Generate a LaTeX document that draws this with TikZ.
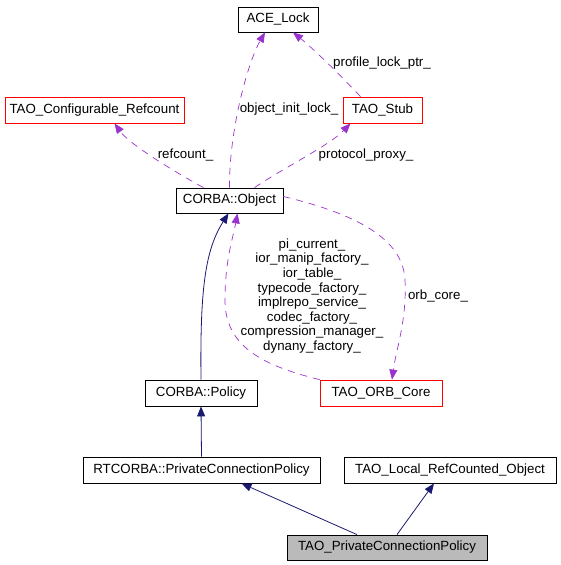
\documentclass[tikz,border=0pt]{standalone}
\usepackage{fontspec}
\setmainfont{Liberation Sans}
\usetikzlibrary{arrows.meta}
\definecolor{dep}{HTML}{9A32CD}
\definecolor{inh}{HTML}{191970}
\begin{document}
\begin{tikzpicture}[x=1pt,y=-1pt,
  font=\fontsize{13.3}{14.6}\selectfont,
  box/.style={draw=black,line width=0.8pt,inner sep=0pt,text height=9.5pt,text depth=3pt},
  redbox/.style={box,draw=red},
  graybox/.style={box,fill=black!27},
  depline/.style={draw=dep,line width=0.7pt,dash pattern=on 7pt off 6pt,-{Triangle[length=10pt,width=8pt,fill=dep]}},
  inhline/.style={draw=inh,line width=0.8pt,-{Triangle[length=10pt,width=8pt,fill=inh]}},
  lbl/.style={inner sep=0pt,align=center}]
\useasboundingbox (0,0) rectangle (560,565);

\node[box,minimum width=80pt,minimum height=25pt] (ace) at (278,19.5) {ACE\_Lock};
\node[redbox,minimum width=179pt,minimum height=26pt] (ref) at (94.5,110) {TAO\_Configurable\_Refcount};
\node[redbox,minimum width=79pt,minimum height=26pt] (stub) at (382.5,110) {TAO\_Stub};
\node[box,minimum width=107pt,minimum height=25pt] (obj) at (229.5,200.5) {CORBA::Object};
\node[box,minimum width=112pt,minimum height=26pt] (pol) at (201,393) {CORBA::Policy};
\node[redbox,minimum width=122pt,minimum height=26pt] (orb) at (381,393) {TAO\_ORB\_Core};
\node[box,minimum width=237pt,minimum height=26pt] (rt) at (201.5,470) {RTCORBA::PrivateConnectionPolicy};
\node[box,minimum width=212pt,minimum height=26pt] (loc) at (450,470) {TAO\_Local\_RefCounted\_Object};
\node[graybox,minimum width=200pt,minimum height=25pt] (pcp) at (387,547.5) {TAO\_PrivateConnectionPolicy};

% dependency edges
\draw[depline] (obj.north) .. controls (229,130) and (248,62) .. ([xshift=-13pt]ace.south);
\draw[depline] ([xshift=-22pt]stub.north) .. controls (345,80) and (315,50) .. ([xshift=15pt]ace.south);
\draw[depline] ([xshift=-26pt]obj.north) .. controls (180,175) and (130,145) .. ([xshift=20pt]ref.south);
\draw[depline] ([xshift=25pt]obj.north) .. controls (280,170) and (330,145) .. ([xshift=-32pt]stub.south);
\draw[depline] ([yshift=4pt]obj.east) .. controls (360,215) and (403,240) .. (405,280)
   .. controls (407,320) and (396,350) .. ([xshift=11pt]orb.north);
\draw[depline] (orb.north west) .. controls (260,365) and (225,345) .. (225,300)
   .. controls (225,260) and (233,238) .. ([xshift=8pt]obj.south);

% inheritance edges
\draw[inhline] (pol.north) .. controls (200,290) and (205,250) .. ([xshift=-1pt]obj.south);
\draw[inhline] (rt.north) -- (pol.south);
\draw[inhline] ([xshift=-30pt]pcp.north) -- ([xshift=40pt]rt.south);
\draw[inhline] ([xshift=10pt]pcp.north) -- ([xshift=-16pt]loc.south);

% labels
\node[lbl] (l1) at (289,109) {object\_init\_lock\_};
\node[lbl] (l2) at (382,63) {profile\_lock\_ptr\_};
\node[lbl] (l3) at (185.5,155) {refcount\_};
\node[lbl] (l4) at (366,155) {protocol\_proxy\_};
\node[lbl] (l5) at (438,296) {orb\_core\_};
\node[lbl] (l6) at (312,296) {pi\_current\_\\ior\_manip\_factory\_\\ior\_table\_\\typecode\_factory\_\\implrepo\_service\_\\codec\_factory\_\\compression\_manager\_\\dynany\_factory\_};
\end{tikzpicture}
\end{document}
